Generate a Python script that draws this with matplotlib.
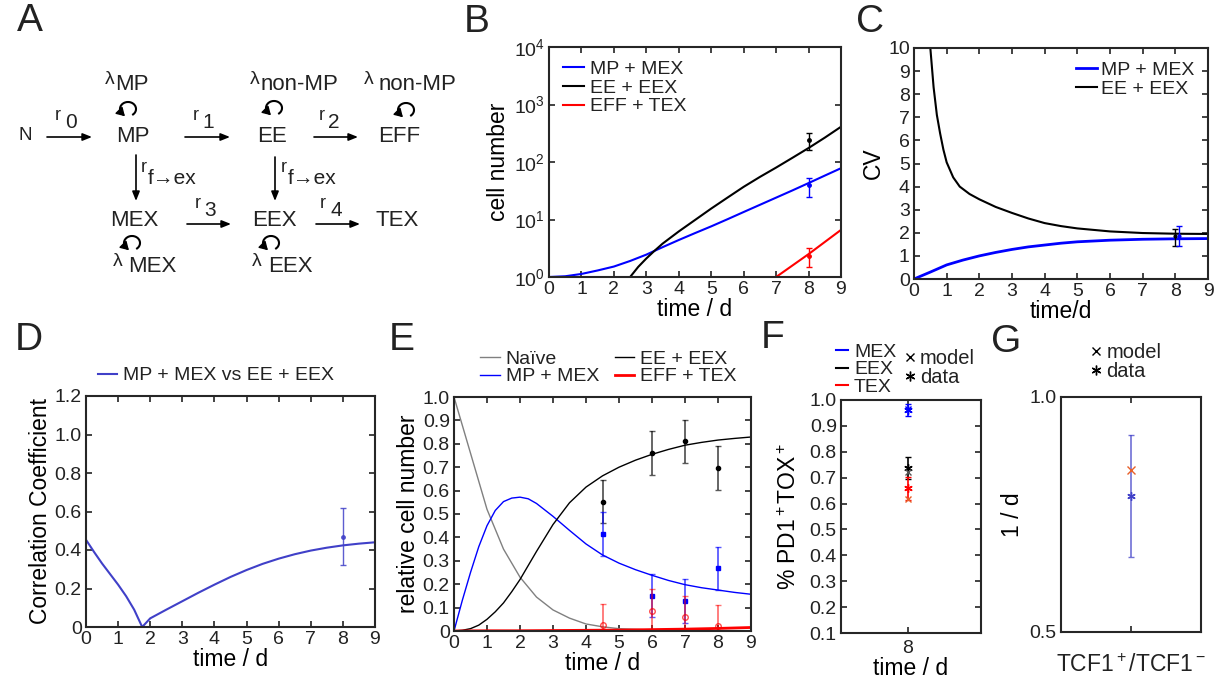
import math
import matplotlib
matplotlib.use('Agg')
import matplotlib.pyplot as plt
from matplotlib.patches import Arc
from matplotlib.lines import Line2D
from matplotlib.ticker import FuncFormatter

plt.rcParams['font.family'] = ['Liberation Sans', 'DejaVu Sans']
plt.rcParams['mathtext.fontset'] = 'custom'
plt.rcParams['mathtext.rm'] = 'Liberation Sans'
plt.rcParams['mathtext.it'] = 'Liberation Sans:italic'
plt.rcParams['mathtext.bf'] = 'Liberation Sans:bold'
plt.rcParams['mathtext.default'] = 'regular'
plt.rcParams['axes.linewidth'] = 1.5
plt.rcParams['axes.edgecolor'] = '#262626'
plt.rcParams['text.color'] = '#222222'

BLUE = '#0000ff'
SLATE = '#4040c8'
ORANGE = '#e8602a'
GRAY = '#808080'

# ---- B: cell numbers (log) ----
b_t_mp = [0, 0.5, 1, 1.5, 2, 2.5, 3, 3.5, 4, 4.5, 5, 5.5, 6, 6.5, 7, 7.5, 8, 8.5, 9]
b_mp = [1, 1.03, 1.13, 1.3, 1.52, 1.9, 2.45, 3.3, 4.4, 5.8, 7.6, 10.1, 13.5, 18, 24, 32, 43, 58, 78]
b_t_ee = [2.5, 2.75, 3, 3.25, 3.5, 4, 4.5, 5, 5.5, 6, 6.5, 7, 7.5, 8, 8.5, 9]
b_ee = [1, 1.5, 2.1, 2.85, 3.8, 6.2, 9.8, 15.5, 24, 37, 55, 80, 118, 175, 265, 410]
b_t_tex = [7, 8, 9]
b_tex = [1, 2.5, 6.6]
b_pt_t = 8
b_pt_mp, b_pt_mp_err = 40, [[15], [12]]
b_pt_ee, b_pt_ee_err = 240, [[78], [82]]
b_pt_tex, b_pt_tex_err = 2.3, [[0.83], [0.9]]

# ---- C: CV ----
c_t_mp = [0, 0.5, 1, 1.5, 2, 2.5, 3, 3.5, 4, 4.5, 5, 6, 7, 8, 9]
c_mp = [0, 0.3, 0.61, 0.82, 1.0, 1.15, 1.28, 1.39, 1.47, 1.55, 1.61, 1.68, 1.72, 1.74, 1.75]
c_t_ee = [0.5, 0.6, 0.7, 0.8, 0.9, 1.0, 1.2, 1.4, 1.7, 2.0, 2.5, 3, 3.5, 4, 4.5, 5, 6, 7, 8, 9]
c_ee = [10, 8.3, 7.1, 6.3, 5.6, 5.05, 4.4, 4.0, 3.68, 3.45, 3.12, 2.86, 2.62, 2.42, 2.29, 2.19, 2.06, 1.99, 1.96, 1.95]
c_pt_ee, c_pt_ee_err = 1.85, [[0.4], [0.3]]
c_pt_mp, c_pt_mp_err = 1.87, [[0.44], [0.43]]

# ---- D: correlation coefficient ----
d_t = [0, 0.25, 0.5, 0.75, 1, 1.25, 1.5, 1.75, 2, 2.5, 3, 3.5, 4, 4.5, 5, 5.5, 6, 6.5, 7, 7.5, 8, 8.5, 9]
d_r = [0.453, 0.39, 0.33, 0.275, 0.22, 0.16, 0.09, 0.0, 0.045, 0.09, 0.134, 0.178, 0.22, 0.26, 0.296, 0.328, 0.355, 0.378, 0.397, 0.412, 0.424, 0.433, 0.44]
d_pt, d_pt_err = 0.47, [[0.146], [0.148]]

# ---- E: relative cell number ----
e_t_nv = [0, 0.25, 0.5, 0.75, 1, 1.5, 2, 2.5, 3, 3.5, 4, 4.5, 5, 6, 7, 8, 9]
e_nv = [1.0, 0.88, 0.76, 0.64, 0.52, 0.35, 0.23, 0.145, 0.09, 0.055, 0.03, 0.018, 0.01, 0.004, 0.002, 0.001, 0.0]
e_t = [0, 0.25, 0.5, 0.75, 1, 1.25, 1.5, 1.75, 2, 2.25, 2.5, 3, 3.5, 4, 4.5, 5, 5.5, 6, 6.5, 7, 7.5, 8, 8.5, 9]
e_mp = [0, 0.13, 0.25, 0.36, 0.45, 0.515, 0.553, 0.568, 0.572, 0.565, 0.545, 0.49, 0.43, 0.372, 0.325, 0.29, 0.262, 0.238, 0.216, 0.198, 0.185, 0.175, 0.165, 0.157]
e_ee = [0, 0.003, 0.01, 0.025, 0.05, 0.082, 0.12, 0.168, 0.22, 0.28, 0.34, 0.455, 0.548, 0.615, 0.663, 0.70, 0.73, 0.755, 0.776, 0.794, 0.806, 0.816, 0.823, 0.829]
e_t_tex = [0, 1, 2, 3, 4, 5, 6, 7, 8, 9]
e_tex = [0, 0.001, 0.001, 0.002, 0.003, 0.004, 0.006, 0.008, 0.011, 0.015]
e_days = [4.5, 6, 7, 8]
e_d_ee = [0.553, 0.76, 0.81, 0.696]
e_d_mp = [0.414, 0.151, 0.128, 0.268]
e_d_tex = [0.025, 0.086, 0.058, 0.02]
e_err = 0.093
e_tex_lo = [0.025, 0.086, 0.058, 0.02]
e_tex_hi = [0.09, 0.092, 0.092, 0.09]

# ---- F: % PD1+TOX+ at day 8 ----
f_pops = ['MEX', 'EEX', 'TEX']
f_cols = [BLUE, 'k', 'r']
f_model_cols = [BLUE, '#555555', ORANGE]
f_data = [0.961, 0.736, 0.659]
f_err = [0.022, 0.042, 0.045]
f_model = [0.965, 0.722, 0.618]

# ---- G: rate TCF1+/TCF1- ----
g_data, g_err = 0.789, 0.13
g_model = 0.845

W, H = 1220, 684
fig = plt.figure(figsize=(W / 100, H / 100), dpi=100)


def panel(l, t, r, b):
    ax = fig.add_axes([l / W, 1 - b / H, (r - l) / W, (b - t) / H])
    ax.tick_params(direction='in', top=True, right=True, length=4, width=1.2,
                   labelsize=14, pad=3, colors='#222222')
    return ax


def dec(v, pos):
    return '0' if v == 0 else f'{v:.1f}'


LAB = 16.5

# ---------------- A: scheme ----------------
dia = fig.add_axes([0, 0, 1, 1])
dia.set_xlim(0, W)
dia.set_ylim(H, 0)
dia.axis('off')


def node(x, y, s, size=16):
    dia.text(x, y, s, ha='center', va='center', fontsize=size)


def arrow(x0, y0, x1, y1):
    dia.annotate('', xy=(x1, y1), xytext=(x0, y0),
                 arrowprops=dict(arrowstyle='-|>,head_length=0.55,head_width=0.22',
                                 lw=1.2, color='k', shrinkA=0, shrinkB=0))


def loop(cx, cy):
    dia.add_patch(Arc((cx, cy), 16, 14, theta1=125, theta2=415, lw=1.5, color='k'))
    a = math.radians(125)
    ex, ey = cx + 8 * math.cos(a), cy + 7 * math.sin(a)
    dia.annotate('', xy=(ex + 1.5, ey + 1.5), xytext=(ex - 1, ey - 1),
                 arrowprops=dict(arrowstyle='-|>,head_length=0.5,head_width=0.3',
                                 lw=1.0, color='k', shrinkA=0, shrinkB=0))


def sub(x0, y0, a, x1, y1, b, sa=14, sb=16):
    dia.text(x0, y0, a, ha='center', va='center', fontsize=sa)
    dia.text(x1, y1, b, ha='center', va='center', fontsize=sb)


node(25, 136, 'N', 13.5)
node(133, 137, 'MP')
node(272, 137, 'EE')
node(399, 137, 'EFF')
node(134, 221, 'MEX')
node(274, 221, 'EEX')
node(397, 221, 'TEX')
arrow(47, 137, 92, 137)
arrow(185, 137, 230, 137)
arrow(314, 137, 358, 137)
arrow(187, 224, 231, 224)
arrow(316, 224, 360, 224)
arrow(136, 155, 136, 201)
arrow(275, 157, 275, 201)
sub(58, 115, 'r', 71, 122, '0', 13, 15)
sub(196, 115, 'r', 208, 122, '1', 13, 15)
sub(322, 115, 'r', 334, 122, '2', 13, 15)
sub(198, 203, 'r', 210, 210, '3', 13, 15)
sub(323, 203, 'r', 336, 210, '4', 13, 15)
sub(144, 167, 'r', 172, 178, 'f→ex', 13, 15)
sub(284, 168, 'r', 312, 179, 'f→ex', 13, 15)
sub(110, 80, 'λ', 132, 85, 'MP')
sub(255, 80, 'λ', 300, 85, 'non-MP')
sub(369, 80, 'λ', 418, 85, 'non-MP')
sub(118, 261, 'λ', 152, 267, 'MEX')
sub(257, 261, 'λ', 290, 267, 'EEX')
loop(128, 109)
loop(274, 108)
loop(406, 110)
loop(132, 243)
loop(271, 243)

# panel letters
for s, x, y in [('A', 30, 21), ('B', 477, 22), ('C', 870, 22), ('D', 29, 340),
                ('E', 402, 340), ('F', 773, 338), ('G', 1006, 342)]:
    fig.text(x / W, 1 - y / H, s, fontsize=28, ha='center', va='center')

# ---------------- B ----------------
ax = panel(549, 47, 841, 277)
ax.plot(b_t_mp, b_mp, color=BLUE, lw=1.5, label='MP + MEX')
ax.plot(b_t_ee, b_ee, color='k', lw=1.5, label='EE + EEX')
ax.plot(b_t_tex, b_tex, color='r', lw=1.5, label='EFF + TEX')
ax.errorbar(b_pt_t, b_pt_ee, yerr=b_pt_ee_err, fmt='.', color='k', ms=5, capsize=2, lw=1)
ax.errorbar(b_pt_t, b_pt_mp, yerr=b_pt_mp_err, fmt='.', color=BLUE, ms=5, capsize=2, lw=1)
ax.errorbar(b_pt_t, b_pt_tex, yerr=b_pt_tex_err, fmt='.', color='r', ms=5, capsize=2, lw=1)
ax.set_yscale('log')
ax.set_ylim(1, 1e4)
ax.set_xlim(0, 9)
ax.set_xticks(range(10))
ax.minorticks_off()
ax.set_yticks([1, 10, 100, 1000, 10000])
ax.set_ylabel('cell number', fontsize=LAB, labelpad=3)
ax.set_xlabel('time / d', fontsize=LAB, labelpad=0)
ax.legend(loc='upper left', frameon=False, fontsize=14, handlelength=1.1,
          handletextpad=0.3, labelspacing=0.05, borderaxespad=0.3)

# ---------------- C ----------------
ax = panel(914, 48, 1208, 279)
ax.plot(c_t_mp, c_mp, color=BLUE, lw=2, label='MP + MEX')
ax.plot(c_t_ee, c_ee, color='k', lw=1.5, label='EE + EEX')
ax.errorbar(8, c_pt_ee, yerr=c_pt_ee_err, fmt='.', color='k', ms=4, capsize=2, lw=1)
ax.errorbar(8.1, c_pt_mp, yerr=c_pt_mp_err, fmt='.', color=BLUE, ms=4, capsize=2, lw=1)
ax.set_xlim(0, 9)
ax.set_ylim(0, 10)
ax.set_xticks(range(10))
ax.set_yticks(range(11))
ax.set_ylabel('CV', fontsize=LAB, labelpad=2)
ax.set_xlabel('time/d', fontsize=LAB, labelpad=0)
ax.legend(loc='upper right', frameon=False, fontsize=14, handlelength=1.1,
          handletextpad=0.2, labelspacing=0.05, borderaxespad=0.3)

# ---------------- D ----------------
ax = panel(86, 396, 375, 627)
ax.plot(d_t, d_r, color=SLATE, lw=1.5, label='MP + MEX vs EE + EEX')
ax.errorbar(8, d_pt, yerr=d_pt_err, fmt='.', color=SLATE, ms=5, capsize=2, lw=1, alpha=0.85)
ax.set_xlim(0, 9)
ax.set_ylim(0, 1.2)
ax.set_xticks(range(10))
ax.set_yticks([0, 0.2, 0.4, 0.6, 0.8, 1.0, 1.2])
ax.yaxis.set_major_formatter(FuncFormatter(dec))
ax.set_ylabel('Correlation Coefficient', fontsize=LAB, labelpad=2)
ax.set_xlabel('time / d', fontsize=LAB, labelpad=0)
ax.legend(loc='lower center', bbox_to_anchor=(0.45, 1.0), frameon=False, fontsize=14,
          handlelength=1.0, handletextpad=0.3, borderaxespad=0.2)

# ---------------- E ----------------
ax = panel(454, 397, 751, 631)
ax.plot(e_t_nv, e_nv, color=GRAY, lw=1, label='Naïve')
ax.plot(e_t, e_mp, color=BLUE, lw=1, label='MP + MEX')
ax.plot(e_t, e_ee, color='k', lw=1, label='EE + EEX')
ax.plot(e_t_tex, e_tex, color='r', lw=2, label='EFF + TEX')
ax.errorbar(e_days, e_d_ee, yerr=e_err, fmt='none', ecolor='k', capsize=2.5, lw=1.3, alpha=0.65)
ax.plot(e_days, e_d_ee, '.', color='k', ms=6)
ax.errorbar(e_days, e_d_mp, yerr=e_err, fmt='none', ecolor=BLUE, capsize=2.5, lw=1.3, alpha=0.65)
ax.plot(e_days, e_d_mp, 's', color=BLUE, ms=3)
ax.errorbar(e_days, e_d_tex, yerr=[e_tex_lo, e_tex_hi], fmt='none', ecolor='r', capsize=2.5, lw=1.3, alpha=0.55)
ax.plot(e_days, e_d_tex, 'o', color='r', mfc='none', ms=4, alpha=0.7)
ax.set_xlim(0, 9)
ax.set_ylim(0, 1.0)
ax.set_xticks(range(10))
ax.set_yticks([i / 10 for i in range(11)])
ax.yaxis.set_major_formatter(FuncFormatter(dec))
ax.set_ylabel('relative cell number', fontsize=LAB, labelpad=2)
ax.set_xlabel('time / d', fontsize=LAB, labelpad=0)
ax.legend(loc='lower center', bbox_to_anchor=(0.52, 1.0), ncol=2, frameon=False, fontsize=14,
          handlelength=1.0, handletextpad=0.3, labelspacing=0.0, columnspacing=0.8,
          borderaxespad=0.2)

# ---------------- F ----------------
ax = panel(841, 400, 981, 633)
for i in range(len(f_pops)):
    ax.errorbar(8, f_data[i], yerr=f_err[i], fmt='none', ecolor=f_cols[i], capsize=2, lw=1.2)
    ax.plot(8, f_data[i], marker=(6, 2, 0), color=f_cols[i], ms=6, ls='none')
    ax.plot(8, f_model[i], marker='x', color=f_model_cols[i], ms=5, ls='none')
ax.set_xlim(7, 9.1)
ax.set_ylim(0.1, 1.0)
ax.set_xticks([8])
ax.set_yticks([i / 10 for i in range(1, 11)])
ax.yaxis.set_major_formatter(FuncFormatter(dec))
ax.tick_params(axis='x', pad=5)
ax.set_ylabel('% PD1$^+$TOX$^+$', fontsize=LAB, labelpad=6)
ax.set_xlabel('time / d', fontsize=LAB, labelpad=0)
h_pop = [Line2D([], [], color=c, lw=1.5) for c in f_cols]
leg1 = ax.legend(h_pop, f_pops, loc='lower left', bbox_to_anchor=(-0.06, 1.0), frameon=False,
                 fontsize=14, handlelength=0.6, handletextpad=0.3, labelspacing=0.0,
                 borderaxespad=0.1, borderpad=0.1)
ax.add_artist(leg1)
h_mk = [Line2D([], [], ls='none', marker='x', color='k', ms=6),
        Line2D([], [], ls='none', marker=(6, 2, 0), color='k', ms=7)]
ax.legend(h_mk, ['model', 'data'], loc='lower left', bbox_to_anchor=(0.42, 1.04), frameon=False,
          fontsize=14.5, handlelength=0.6, handletextpad=0.2, labelspacing=0.0,
          borderaxespad=0.1, borderpad=0.1)

# ---------------- G ----------------
ax = panel(1061, 397, 1201, 632)
ax.errorbar(1, g_data, yerr=g_err, fmt='none', ecolor=SLATE, capsize=2, lw=1.2, alpha=0.75)
ax.plot(1, g_data, marker=(6, 2, 0), color=SLATE, ms=6, ls='none')
ax.plot(1, g_model, marker='x', color=ORANGE, ms=6, ls='none')
ax.set_xlim(0, 2)
ax.set_ylim(0.5, 1.0)
ax.set_xticks([1])
ax.set_xticklabels(['TCF1$^+$/TCF1$^-$'], fontsize=LAB)
ax.tick_params(axis='x', pad=16)
ax.set_yticks([0.5, 1.0])
ax.yaxis.set_major_formatter(FuncFormatter(dec))
ax.set_ylabel('1 / d', fontsize=LAB, labelpad=4)
ax.legend(h_mk, ['model', 'data'], loc='lower left', bbox_to_anchor=(0.18, 1.05), frameon=False,
          fontsize=14.5, handlelength=0.6, handletextpad=0.2, labelspacing=0.0,
          borderaxespad=0.1, borderpad=0.1)

fig.savefig('out.png', dpi=100)
